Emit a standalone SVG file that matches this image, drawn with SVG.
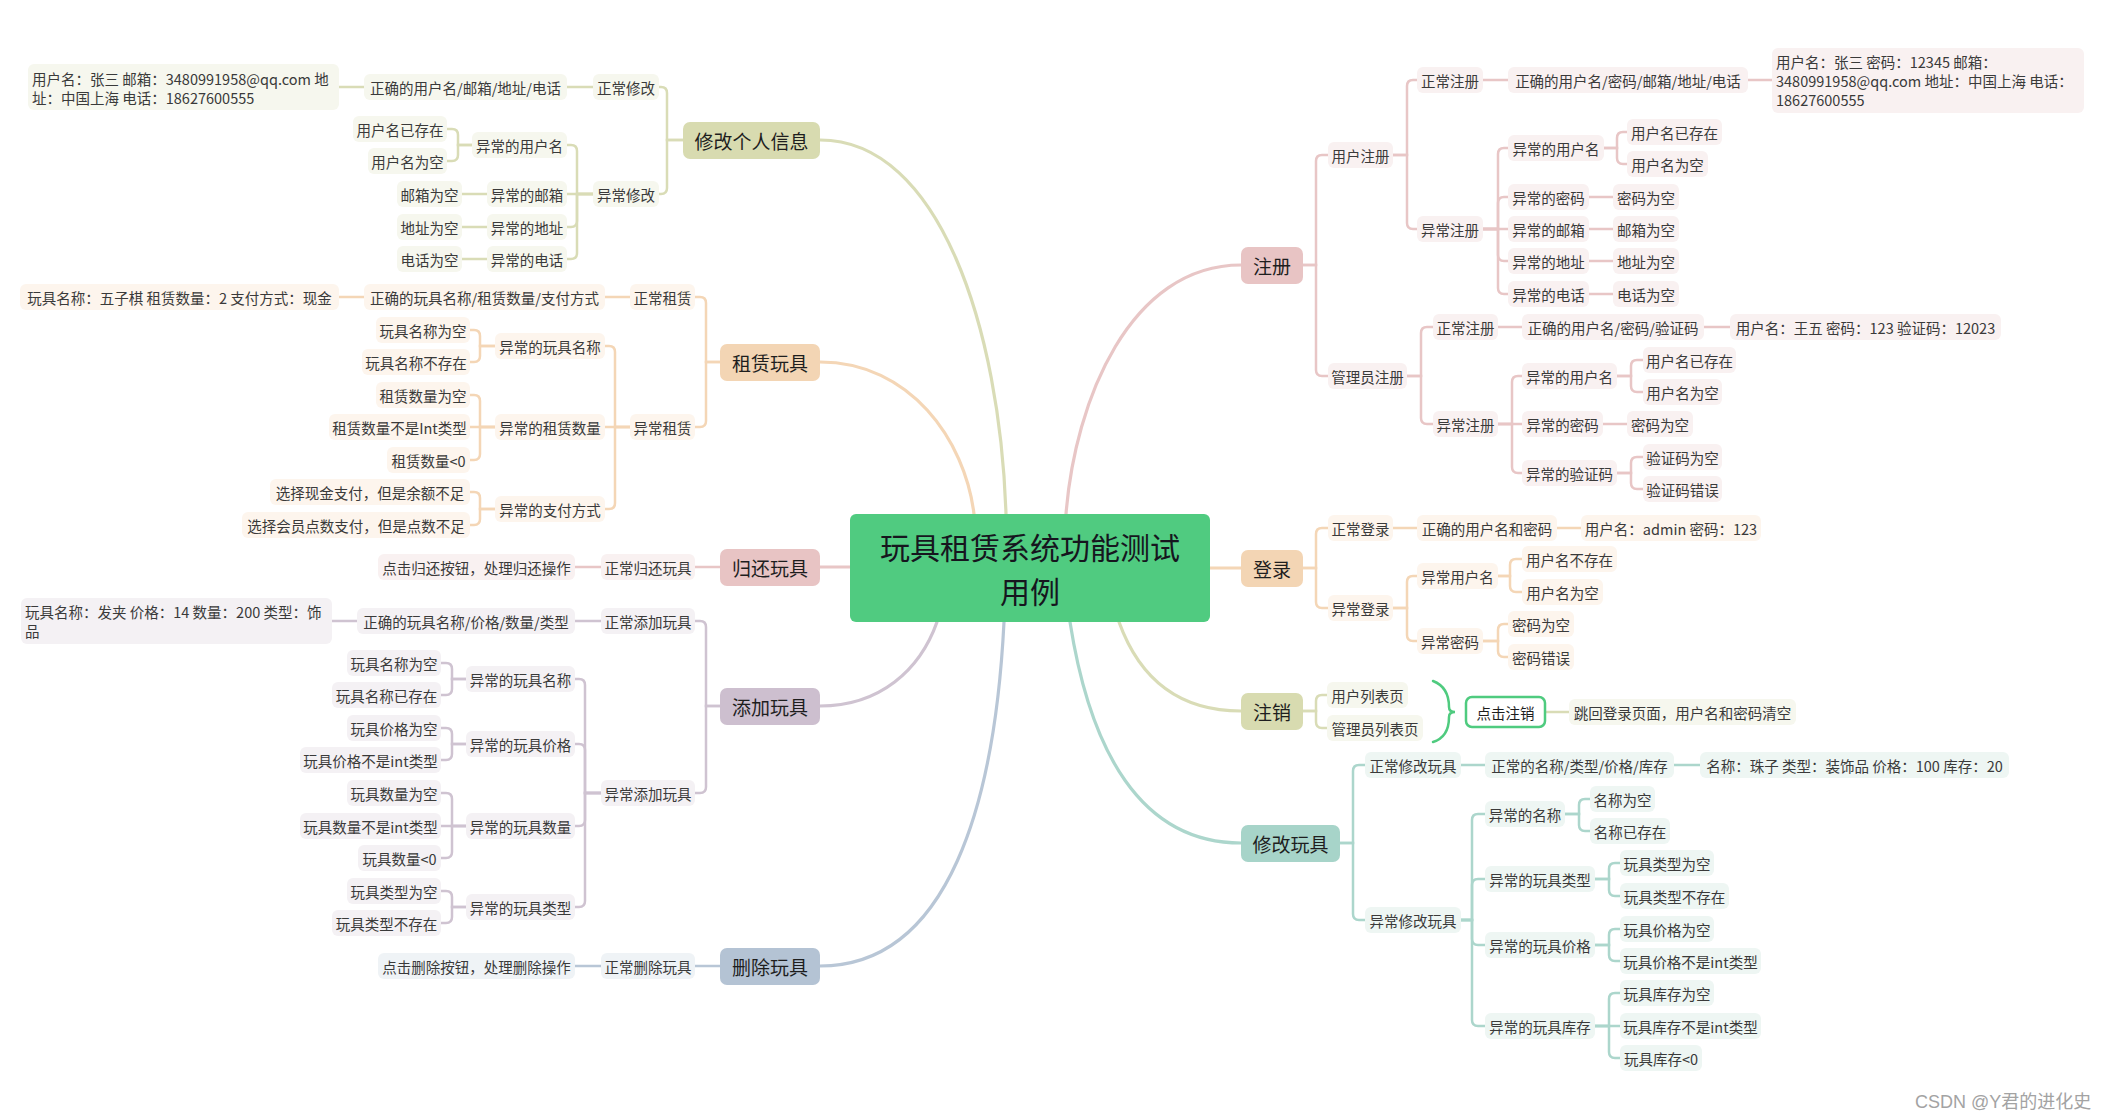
<svg xmlns="http://www.w3.org/2000/svg" width="2110" height="1120" viewBox="0 0 2110 1120">
<style>
text{font-family:"Noto Sans CJK SC","Noto Sans",sans-serif;font-size:14.5px;fill:#3a3a3a;text-anchor:middle;dominant-baseline:central}
.dt text{text-anchor:start}
.m text{font-size:19px;fill:#1e1e1e}
.ctr text{font-size:30px;fill:#16161e}
rect{rx:6px;ry:6px}
.m rect{rx:7px;ry:7px}
.cn path{fill:none;stroke-width:2.5;stroke-linecap:round}
.cn .main path{stroke-width:3.2}
.ol rect{fill:#f6f7ee}.ol.m rect{fill:#d8dbb0}.ol path{stroke:#d9dcb6}
.pe rect{fill:#fdf5ed}.pe.m rect{fill:#f3d5b4}.pe path{stroke:#f4d6b6}
.pk rect{fill:#f9f1f1}.pk.m rect{fill:#e8c4c4}.pk path{stroke:#e8c6c6}
.li rect{fill:#f4f1f4}.li.m rect{fill:#cdbfcf}.li path{stroke:#cfc3d1}
.bl rect{fill:#eff3f6}.bl.m rect{fill:#b4c3d4}.bl path{stroke:#b8c6d6}
.te rect{fill:#eef6f3}.te.m rect{fill:#a7d4c9}.te path{stroke:#acd6cc}
.wm{font-family:"Liberation Sans","Noto Sans CJK SC",sans-serif;font-size:18px;fill:#a3a3a3;text-anchor:start}
</style>

<g id="connectors" class="cn">
  <g class="main">
    <path d="M820 140 C940 140 1000 330 1006 514" stroke="#d9dcb6"/>
    <path d="M820 362 C910 362 965 440 974 514" stroke="#f4d6b6"/>
    <path d="M820 567 H850" stroke="#e8c6c6"/>
    <path d="M820 706 C880 706 920 670 937 622" stroke="#cfc3d1"/>
    <path d="M820 966 C950 966 995 800 1004 622" stroke="#b8c6d6"/>
    <path d="M1241 265 C1130 265 1075 400 1066 514" stroke="#e8c6c6"/>
    <path d="M1210 568 H1241" stroke="#f4d6b6"/>
    <path d="M1241 711 C1180 711 1140 680 1119 622" stroke="#d9dcb6"/>
    <path d="M1241 843 C1140 843 1090 750 1070 622" stroke="#acd6cc"/>
  </g>
  <g class="ol">
    <path d="M683 140 H667 V93 Q667 87 661 87 H659"/>
    <path d="M683 140 H667 V188 Q667 194 661 194 H659"/>
    <path d="M593 87 H567"/>
    <path d="M364 87 H339"/>
    <path d="M593 194 H577 V151 Q577 145 571 145 H567"/>
    <path d="M593 194 H567"/>
    <path d="M593 194 H577 V221 Q577 227 571 227 H567"/>
    <path d="M593 194 H577 V253 Q577 259 571 259 H567"/>
    <path d="M472 145 H458 V135 Q458 129 452 129 H447"/>
    <path d="M472 145 H458 V155 Q458 161 452 161 H447"/>
    <path d="M487 194 H462"/>
    <path d="M487 227 H462"/>
    <path d="M487 259 H462"/>
    <path d="M1303 711 H1316 V701 Q1316 695 1322 695 H1327"/>
    <path d="M1303 711 H1316 V722 Q1316 728 1322 728 H1327"/>
    <path d="M1545 712 H1569"/>
  </g>
  <g class="pe">
    <path d="M720 362 H706 V303 Q706 297 700 297 H695"/>
    <path d="M720 362 H706 V421 Q706 427 700 427 H695"/>
    <path d="M630 297 H605"/>
    <path d="M364 297 H339"/>
    <path d="M630 427 H615 V352 Q615 346 609 346 H605"/>
    <path d="M630 427 H605"/>
    <path d="M630 427 H615 V503 Q615 509 609 509 H605"/>
    <path d="M495 346 H480 V336 Q480 330 474 330 H470"/>
    <path d="M495 346 H480 V356 Q480 362 474 362 H470"/>
    <path d="M495 427 H480 V401 Q480 395 474 395 H470"/>
    <path d="M495 427 H470"/>
    <path d="M495 427 H480 V454 Q480 460 474 460 H470"/>
    <path d="M495 509 H480 V498 Q480 492 474 492 H470"/>
    <path d="M495 509 H480 V519 Q480 525 474 525 H470"/>
    <path d="M1303 568 H1316 V534 Q1316 528 1322 528 H1328"/>
    <path d="M1303 568 H1316 V602 Q1316 608 1322 608 H1328"/>
    <path d="M1393 528 H1417"/>
    <path d="M1557 528 H1581"/>
    <path d="M1393 608 H1407 V582 Q1407 576 1413 576 H1417"/>
    <path d="M1393 608 H1407 V635 Q1407 641 1413 641 H1417"/>
    <path d="M1498 576 H1510 V565 Q1510 559 1516 559 H1522"/>
    <path d="M1498 576 H1510 V586 Q1510 592 1516 592 H1522"/>
    <path d="M1483 641 H1498 V630 Q1498 624 1504 624 H1508"/>
    <path d="M1483 641 H1498 V651 Q1498 657 1504 657 H1508"/>
  </g>
  <g class="pk">
    <path d="M720 567 H695"/>
    <path d="M601 567 H575"/>
    <path d="M1303 265 H1316 V161 Q1316 155 1322 155 H1328"/>
    <path d="M1303 265 H1316 V370 Q1316 376 1322 376 H1328"/>
    <path d="M1393 155 H1407 V86 Q1407 80 1413 80 H1417"/>
    <path d="M1393 155 H1407 V223 Q1407 229 1413 229 H1417"/>
    <path d="M1483 80 H1508"/>
    <path d="M1748 80 H1772"/>
    <path d="M1483 229 H1498 V154 Q1498 148 1504 148 H1508"/>
    <path d="M1483 229 H1498 V203 Q1498 197 1504 197 H1508"/>
    <path d="M1483 229 H1508"/>
    <path d="M1483 229 H1498 V255 Q1498 261 1504 261 H1508"/>
    <path d="M1483 229 H1498 V288 Q1498 294 1504 294 H1508"/>
    <path d="M1604 148 H1617 V138 Q1617 132 1623 132 H1627"/>
    <path d="M1604 148 H1617 V158 Q1617 164 1623 164 H1627"/>
    <path d="M1589 197 H1613"/>
    <path d="M1589 229 H1613"/>
    <path d="M1589 261 H1613"/>
    <path d="M1589 294 H1613"/>
    <path d="M1407 376 H1421 V333 Q1421 327 1427 327 H1433"/>
    <path d="M1407 376 H1421 V418 Q1421 424 1427 424 H1433"/>
    <path d="M1498 327 H1522"/>
    <path d="M1704 327 H1730"/>
    <path d="M1498 424 H1512 V382 Q1512 376 1518 376 H1522"/>
    <path d="M1498 424 H1522"/>
    <path d="M1498 424 H1512 V467 Q1512 473 1518 473 H1522"/>
    <path d="M1617 376 H1631 V366 Q1631 360 1637 360 H1643"/>
    <path d="M1617 376 H1631 V386 Q1631 392 1637 392 H1643"/>
    <path d="M1603 424 H1627"/>
    <path d="M1617 473 H1631 V463 Q1631 457 1637 457 H1643"/>
    <path d="M1617 473 H1631 V483 Q1631 489 1637 489 H1643"/>
  </g>
  <g class="li">
    <path d="M720 706 H706 V627 Q706 621 700 621 H695"/>
    <path d="M720 706 H706 V787 Q706 793 700 793 H695"/>
    <path d="M601 621 H575"/>
    <path d="M357 621 H332"/>
    <path d="M601 793 H585 V685 Q585 679 579 679 H575"/>
    <path d="M601 793 H585 V750 Q585 744 579 744 H575"/>
    <path d="M601 793 H585 V820 Q585 826 579 826 H575"/>
    <path d="M601 793 H585 V901 Q585 907 579 907 H575"/>
    <path d="M466 679 H452 V669 Q452 663 446 663 H441"/>
    <path d="M466 679 H452 V689 Q452 695 446 695 H441"/>
    <path d="M466 744 H452 V734 Q452 728 446 728 H441"/>
    <path d="M466 744 H452 V754 Q452 760 446 760 H441"/>
    <path d="M466 826 H452 V799 Q452 793 446 793 H441"/>
    <path d="M466 826 H441"/>
    <path d="M466 826 H452 V852 Q452 858 446 858 H441"/>
    <path d="M466 907 H452 V897 Q452 891 446 891 H441"/>
    <path d="M466 907 H452 V917 Q452 923 446 923 H441"/>
  </g>
  <g class="bl">
    <path d="M720 966 H695"/>
    <path d="M601 966 H575"/>
  </g>
  <g class="te">
    <path d="M1340 843 H1353 V771 Q1353 765 1359 765 H1365"/>
    <path d="M1340 843 H1353 V914 Q1353 920 1359 920 H1365"/>
    <path d="M1461 765 H1485"/>
    <path d="M1674 765 H1700"/>
    <path d="M1461 920 H1472 V820 Q1472 814 1478 814 H1485"/>
    <path d="M1461 920 H1472 V885 Q1472 879 1478 879 H1485"/>
    <path d="M1461 920 H1472 V939 Q1472 945 1478 945 H1485"/>
    <path d="M1461 920 H1472 V1020 Q1472 1026 1478 1026 H1485"/>
    <path d="M1565 814 H1579 V805 Q1579 799 1585 799 H1590"/>
    <path d="M1565 814 H1579 V825 Q1579 831 1585 831 H1590"/>
    <path d="M1595 879 H1609 V869 Q1609 863 1615 863 H1620"/>
    <path d="M1595 879 H1609 V890 Q1609 896 1615 896 H1620"/>
    <path d="M1595 945 H1609 V935 Q1609 929 1615 929 H1620"/>
    <path d="M1595 945 H1609 V955 Q1609 961 1615 961 H1620"/>
    <path d="M1595 1026 H1609 V999 Q1609 993 1615 993 H1620"/>
    <path d="M1595 1026 H1620"/>
    <path d="M1595 1026 H1609 V1052 Q1609 1058 1615 1058 H1620"/>
  </g>
  <path id="brace" d="M1433 681 C1446 686 1449 698 1449 707 Q1449 712 1455 712 Q1449 712 1449 717 C1449 726 1446 738 1433 742" stroke="#4fcb7f" stroke-width="2.5" fill="none"/>
</g>

<g id="center" class="ctr">
  <rect x="850" y="514" width="360" height="108" fill="#50cb80"/>
  <text x="1030" y="546">玩具租赁系统功能测试</text>
  <text x="1030" y="590">用例</text>
</g>

<!-- main nodes -->
<g id="m-xggrxx" class="ol m"><rect x="683" y="122" width="137" height="37"/><text x="751.5" y="140.5">修改个人信息</text></g>
<g id="m-zlwj" class="pe m"><rect x="720" y="344" width="100" height="37"/><text x="770" y="362.5">租赁玩具</text></g>
<g id="m-ghwj" class="pk m"><rect x="720" y="549" width="100" height="37"/><text x="770" y="567.5">归还玩具</text></g>
<g id="m-tjwj" class="li m"><rect x="720" y="688" width="100" height="37"/><text x="770" y="706.5">添加玩具</text></g>
<g id="m-scwj" class="bl m"><rect x="720" y="948" width="100" height="37"/><text x="770" y="966.5">删除玩具</text></g>
<g id="m-zc" class="pk m"><rect x="1241" y="247" width="62" height="37"/><text x="1272" y="265.5">注册</text></g>
<g id="m-dl" class="pe m"><rect x="1241" y="550" width="62" height="37"/><text x="1272" y="568.5">登录</text></g>
<g id="m-zx" class="ol m"><rect x="1241" y="693" width="62" height="37"/><text x="1272" y="711.5">注销</text></g>
<g id="m-xgwj" class="te m"><rect x="1241" y="825" width="99" height="37"/><text x="1290.5" y="843.5">修改玩具</text></g>

<!-- 修改个人信息 -->
<g class="ol">
<g id="a1"><rect x="593" y="74" width="66" height="26"/><text x="626" y="87">正常修改</text></g>
<g id="a2"><rect x="364" y="74" width="203" height="26"/><text x="465.5" y="87">正确的用户名/邮箱/地址/电话</text></g>
<g id="a3" class="dt"><rect x="28" y="64" width="311" height="46"/><text x="32" y="78">用户名：张三 邮箱：3480991958@qq.com 地</text><text x="32" y="97">址：中国上海 电话：18627600555</text></g>
<g id="a4"><rect x="593" y="181" width="66" height="26"/><text x="626" y="194">异常修改</text></g>
<g id="a5"><rect x="472" y="132" width="95" height="26"/><text x="519.5" y="145">异常的用户名</text></g>
<g id="a6"><rect x="353" y="116" width="94" height="26"/><text x="400" y="129">用户名已存在</text></g>
<g id="a7"><rect x="368" y="148" width="79" height="26"/><text x="407.5" y="161">用户名为空</text></g>
<g id="a8"><rect x="487" y="181" width="80" height="26"/><text x="527" y="194">异常的邮箱</text></g>
<g id="a9"><rect x="397" y="181" width="65" height="26"/><text x="429.5" y="194">邮箱为空</text></g>
<g id="a10"><rect x="487" y="214" width="80" height="26"/><text x="527" y="227">异常的地址</text></g>
<g id="a11"><rect x="397" y="214" width="65" height="26"/><text x="429.5" y="227">地址为空</text></g>
<g id="a12"><rect x="487" y="246" width="80" height="26"/><text x="527" y="259">异常的电话</text></g>
<g id="a13"><rect x="397" y="246" width="65" height="26"/><text x="429.5" y="259">电话为空</text></g>
</g>

<!-- 租赁玩具 -->
<g class="pe">
<g id="b1"><rect x="630" y="284" width="65" height="26"/><text x="662.5" y="297">正常租赁</text></g>
<g id="b2"><rect x="364" y="284" width="241" height="26"/><text x="484.5" y="297">正确的玩具名称/租赁数量/支付方式</text></g>
<g id="b3"><rect x="20" y="284" width="319" height="26"/><text x="179.5" y="297">玩具名称：五子棋 租赁数量：2 支付方式：现金</text></g>
<g id="b4"><rect x="630" y="414" width="65" height="26"/><text x="662.5" y="427">异常租赁</text></g>
<g id="b5"><rect x="495" y="333" width="110" height="26"/><text x="550" y="346">异常的玩具名称</text></g>
<g id="b6"><rect x="376" y="317" width="94" height="26"/><text x="423" y="330">玩具名称为空</text></g>
<g id="b7"><rect x="362" y="349" width="108" height="26"/><text x="416" y="362">玩具名称不存在</text></g>
<g id="b8"><rect x="495" y="414" width="110" height="26"/><text x="550" y="427">异常的租赁数量</text></g>
<g id="b9"><rect x="376" y="382" width="94" height="26"/><text x="423" y="395">租赁数量为空</text></g>
<g id="b10"><rect x="329" y="414" width="141" height="26"/><text x="399.5" y="427">租赁数量不是Int类型</text></g>
<g id="b11"><rect x="387" y="447" width="83" height="26"/><text x="428.5" y="460">租赁数量&lt;0</text></g>
<g id="b12"><rect x="495" y="496" width="110" height="26"/><text x="550" y="509">异常的支付方式</text></g>
<g id="b13"><rect x="270" y="479" width="200" height="26"/><text x="370" y="492">选择现金支付，但是余额不足</text></g>
<g id="b14"><rect x="242" y="512" width="228" height="26"/><text x="356" y="525">选择会员点数支付，但是点数不足</text></g>
</g>

<!-- 归还玩具 -->
<g class="pk">
<g id="c1"><rect x="601" y="554" width="94" height="26"/><text x="648" y="567">正常归还玩具</text></g>
<g id="c2"><rect x="378" y="554" width="197" height="26"/><text x="476.5" y="567">点击归还按钮，处理归还操作</text></g>
</g>

<!-- 添加玩具 -->
<g class="li">
<g id="d1"><rect x="601" y="608" width="94" height="26"/><text x="648" y="621">正常添加玩具</text></g>
<g id="d2"><rect x="357" y="608" width="218" height="26"/><text x="466" y="621">正确的玩具名称/价格/数量/类型</text></g>
<g id="d3" class="dt"><rect x="21" y="598" width="311" height="46"/><text x="25" y="611">玩具名称：发夹 价格：14 数量：200 类型：饰</text><text x="25" y="630">品</text></g>
<g id="d4"><rect x="601" y="780" width="94" height="26"/><text x="648" y="793">异常添加玩具</text></g>
<g id="d5"><rect x="466" y="666" width="109" height="26"/><text x="520.5" y="679">异常的玩具名称</text></g>
<g id="d6"><rect x="347" y="650" width="94" height="26"/><text x="394" y="663">玩具名称为空</text></g>
<g id="d7"><rect x="332" y="682" width="109" height="26"/><text x="386.5" y="695">玩具名称已存在</text></g>
<g id="d8"><rect x="466" y="731" width="109" height="26"/><text x="520.5" y="744">异常的玩具价格</text></g>
<g id="d9"><rect x="347" y="715" width="94" height="26"/><text x="394" y="728">玩具价格为空</text></g>
<g id="d10"><rect x="300" y="747" width="141" height="26"/><text x="370.5" y="760">玩具价格不是int类型</text></g>
<g id="d11"><rect x="466" y="813" width="109" height="26"/><text x="520.5" y="826">异常的玩具数量</text></g>
<g id="d12"><rect x="347" y="780" width="94" height="26"/><text x="394" y="793">玩具数量为空</text></g>
<g id="d13"><rect x="300" y="813" width="141" height="26"/><text x="370.5" y="826">玩具数量不是int类型</text></g>
<g id="d14"><rect x="358" y="845" width="83" height="26"/><text x="399.5" y="858">玩具数量&lt;0</text></g>
<g id="d15"><rect x="466" y="894" width="109" height="26"/><text x="520.5" y="907">异常的玩具类型</text></g>
<g id="d16"><rect x="347" y="878" width="94" height="26"/><text x="394" y="891">玩具类型为空</text></g>
<g id="d17"><rect x="332" y="910" width="109" height="26"/><text x="386.5" y="923">玩具类型不存在</text></g>
</g>

<!-- 删除玩具 -->
<g class="bl">
<g id="e1"><rect x="601" y="953" width="94" height="26"/><text x="648" y="966">正常删除玩具</text></g>
<g id="e2"><rect x="378" y="953" width="197" height="26"/><text x="476.5" y="966">点击删除按钮，处理删除操作</text></g>
</g>

<!-- 注册 -->
<g class="pk">
<g id="f1"><rect x="1328" y="142" width="65" height="26"/><text x="1360.5" y="155">用户注册</text></g>
<g id="f2"><rect x="1417" y="67" width="66" height="26"/><text x="1450" y="80">正常注册</text></g>
<g id="f3"><rect x="1508" y="67" width="240" height="26"/><text x="1628" y="80">正确的用户名/密码/邮箱/地址/电话</text></g>
<g id="f4" class="dt"><rect x="1772" y="48" width="312" height="65"/><text x="1776" y="61">用户名：张三 密码：12345 邮箱：</text><text x="1776" y="80">3480991958@qq.com 地址：中国上海 电话：</text><text x="1776" y="99">18627600555</text></g>
<g id="f5"><rect x="1417" y="216" width="66" height="26"/><text x="1450" y="229">异常注册</text></g>
<g id="f6"><rect x="1508" y="135" width="96" height="26"/><text x="1556" y="148">异常的用户名</text></g>
<g id="f7"><rect x="1627" y="119" width="95" height="26"/><text x="1674.5" y="132">用户名已存在</text></g>
<g id="f8"><rect x="1627" y="151" width="81" height="26"/><text x="1667.5" y="164">用户名为空</text></g>
<g id="f9"><rect x="1508" y="184" width="81" height="26"/><text x="1548.5" y="197">异常的密码</text></g>
<g id="f10"><rect x="1613" y="184" width="66" height="26"/><text x="1646" y="197">密码为空</text></g>
<g id="f11"><rect x="1508" y="216" width="81" height="26"/><text x="1548.5" y="229">异常的邮箱</text></g>
<g id="f12"><rect x="1613" y="216" width="66" height="26"/><text x="1646" y="229">邮箱为空</text></g>
<g id="f13"><rect x="1508" y="248" width="81" height="26"/><text x="1548.5" y="261">异常的地址</text></g>
<g id="f14"><rect x="1613" y="248" width="66" height="26"/><text x="1646" y="261">地址为空</text></g>
<g id="f15"><rect x="1508" y="281" width="81" height="26"/><text x="1548.5" y="294">异常的电话</text></g>
<g id="f16"><rect x="1613" y="281" width="66" height="26"/><text x="1646" y="294">电话为空</text></g>
<g id="g1"><rect x="1328" y="363" width="79" height="26"/><text x="1367.5" y="376">管理员注册</text></g>
<g id="g2"><rect x="1433" y="314" width="65" height="26"/><text x="1465.5" y="327">正常注册</text></g>
<g id="g3"><rect x="1522" y="314" width="182" height="26"/><text x="1613" y="327">正确的用户名/密码/验证码</text></g>
<g id="g4"><rect x="1730" y="314" width="271" height="26"/><text x="1865.5" y="327">用户名：王五 密码：123 验证码：12023</text></g>
<g id="g5"><rect x="1433" y="411" width="65" height="26"/><text x="1465.5" y="424">异常注册</text></g>
<g id="g6"><rect x="1522" y="363" width="95" height="26"/><text x="1569.5" y="376">异常的用户名</text></g>
<g id="g7"><rect x="1643" y="347" width="93" height="26"/><text x="1689.5" y="360">用户名已存在</text></g>
<g id="g8"><rect x="1643" y="379" width="79" height="26"/><text x="1682.5" y="392">用户名为空</text></g>
<g id="g9"><rect x="1522" y="411" width="81" height="26"/><text x="1562.5" y="424">异常的密码</text></g>
<g id="g10"><rect x="1627" y="411" width="66" height="26"/><text x="1660" y="424">密码为空</text></g>
<g id="g11"><rect x="1522" y="460" width="95" height="26"/><text x="1569.5" y="473">异常的验证码</text></g>
<g id="g12"><rect x="1643" y="444" width="79" height="26"/><text x="1682.5" y="457">验证码为空</text></g>
<g id="g13"><rect x="1643" y="476" width="79" height="26"/><text x="1682.5" y="489">验证码错误</text></g>
</g>

<!-- 登录 -->
<g class="pe">
<g id="h1"><rect x="1328" y="515" width="65" height="26"/><text x="1360.5" y="528">正常登录</text></g>
<g id="h2"><rect x="1417" y="515" width="140" height="26"/><text x="1487" y="528">正确的用户名和密码</text></g>
<g id="h3"><rect x="1581" y="515" width="180" height="26"/><text x="1671" y="528">用户名：admin 密码：123</text></g>
<g id="h4"><rect x="1328" y="595" width="65" height="26"/><text x="1360.5" y="608">异常登录</text></g>
<g id="h5"><rect x="1417" y="563" width="81" height="26"/><text x="1457.5" y="576">异常用户名</text></g>
<g id="h6"><rect x="1522" y="546" width="95" height="26"/><text x="1569.5" y="559">用户名不存在</text></g>
<g id="h7"><rect x="1522" y="579" width="81" height="26"/><text x="1562.5" y="592">用户名为空</text></g>
<g id="h8"><rect x="1417" y="628" width="66" height="26"/><text x="1450" y="641">异常密码</text></g>
<g id="h9"><rect x="1508" y="611" width="66" height="26"/><text x="1541" y="624">密码为空</text></g>
<g id="h10"><rect x="1508" y="644" width="66" height="26"/><text x="1541" y="657">密码错误</text></g>
</g>

<!-- 注销 -->
<g class="ol">
<g id="i1"><rect x="1327" y="682" width="81" height="26"/><text x="1367.5" y="695">用户列表页</text></g>
<g id="i2"><rect x="1327" y="715" width="96" height="26"/><text x="1375" y="728">管理员列表页</text></g>
<g id="i4"><rect x="1569" y="699" width="227" height="26"/><text x="1682.5" y="712">跳回登录页面，用户名和密码清空</text></g>
</g>
<g id="i3"><rect x="1466" y="697" width="79" height="30" rx="8" ry="8" fill="#ffffff" stroke="#4fcb7f" stroke-width="2.5"/><text x="1505.5" y="712" style="fill:#1e1e1e">点击注销</text></g>

<!-- 修改玩具 -->
<g class="te">
<g id="j1"><rect x="1365" y="752" width="96" height="26"/><text x="1413" y="765">正常修改玩具</text></g>
<g id="j2"><rect x="1485" y="752" width="189" height="26"/><text x="1579.5" y="765">正常的名称/类型/价格/库存</text></g>
<g id="j3"><rect x="1700" y="752" width="309" height="26"/><text x="1854.5" y="765">名称：珠子 类型：装饰品 价格：100 库存：20</text></g>
<g id="j4"><rect x="1365" y="907" width="96" height="26"/><text x="1413" y="920">异常修改玩具</text></g>
<g id="j5"><rect x="1485" y="801" width="80" height="26"/><text x="1525" y="814">异常的名称</text></g>
<g id="j6"><rect x="1590" y="786" width="65" height="26"/><text x="1622.5" y="799">名称为空</text></g>
<g id="j7"><rect x="1590" y="818" width="80" height="26"/><text x="1630" y="831">名称已存在</text></g>
<g id="j8"><rect x="1485" y="866" width="110" height="26"/><text x="1540" y="879">异常的玩具类型</text></g>
<g id="j9"><rect x="1620" y="850" width="94" height="26"/><text x="1667" y="863">玩具类型为空</text></g>
<g id="j10"><rect x="1620" y="883" width="109" height="26"/><text x="1674.5" y="896">玩具类型不存在</text></g>
<g id="j11"><rect x="1485" y="932" width="110" height="26"/><text x="1540" y="945">异常的玩具价格</text></g>
<g id="j12"><rect x="1620" y="916" width="94" height="26"/><text x="1667" y="929">玩具价格为空</text></g>
<g id="j13"><rect x="1620" y="948" width="141" height="26"/><text x="1690.5" y="961">玩具价格不是int类型</text></g>
<g id="j14"><rect x="1485" y="1013" width="110" height="26"/><text x="1540" y="1026">异常的玩具库存</text></g>
<g id="j15"><rect x="1620" y="980" width="94" height="26"/><text x="1667" y="993">玩具库存为空</text></g>
<g id="j16"><rect x="1620" y="1013" width="141" height="26"/><text x="1690.5" y="1026">玩具库存不是int类型</text></g>
<g id="j17"><rect x="1620" y="1045" width="82" height="26"/><text x="1661" y="1058">玩具库存&lt;0</text></g>
</g>

<text class="wm" x="1915" y="1102">CSDN @Y君的进化史</text>
</svg>
